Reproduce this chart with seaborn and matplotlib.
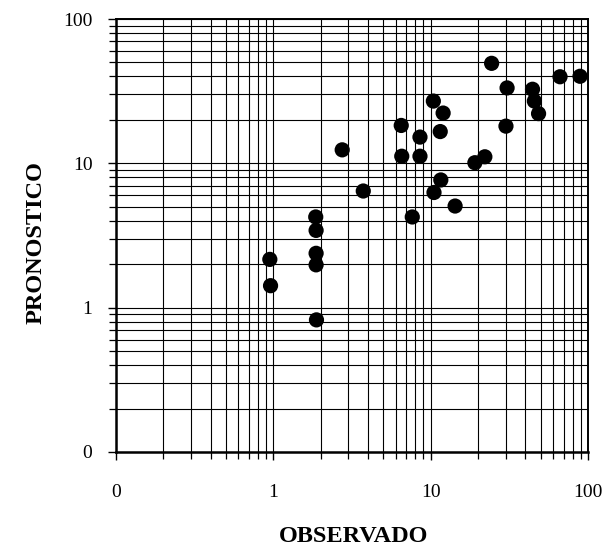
import matplotlib
matplotlib.use("Agg")
import matplotlib.pyplot as plt
import seaborn as sns
import pandas as pd
from matplotlib.ticker import LogLocator, FixedLocator, FixedFormatter, NullFormatter

observado = [24.4, 66.4, 89.0, 30.6, 44.4, 45.6, 48.5, 10.4, 12.0, 6.5,
             11.5, 8.55, 30.1, 2.74, 6.55, 8.55, 19.1, 22.1, 11.6, 10.5,
             3.73, 14.3, 7.64, 1.86, 1.87, 1.87, 1.87, 1.88, 0.95, 0.96]
pronostico = [49.3, 39.8, 40.1, 33.3, 32.6, 27.0, 22.1, 27.0, 22.3, 18.3,
              16.6, 15.2, 18.1, 12.4, 11.2, 11.2, 10.1, 11.1, 7.67, 6.28,
              6.43, 5.06, 4.25, 4.25, 3.43, 2.38, 1.98, 0.823, 2.16, 1.42]
tick_values = [0.1, 1, 10, 100]
tick_labels = ["0", "1", "10", "100"]

df = pd.DataFrame({"OBSERVADO": observado, "PRONOSTICO": pronostico})

sns.set_style("white")
plt.rcParams["font.family"] = ["Liberation Serif", "DejaVu Serif"]
plt.rcParams["text.color"] = "black"
plt.rcParams["axes.labelcolor"] = "black"
plt.rcParams["xtick.color"] = "black"
plt.rcParams["ytick.color"] = "black"

fig = plt.figure(figsize=(6.10, 5.57), dpi=100)
ax = fig.add_axes([116 / 610, 1 - 452 / 557, 472 / 610, 433 / 557])

ax.set_xscale("log")
ax.set_yscale("log")
ax.set_xlim(0.1, 100)
ax.set_ylim(0.1, 100)

sns.scatterplot(data=df, x="OBSERVADO", y="PRONOSTICO", ax=ax, color="black",
                s=120, edgecolor="none", zorder=5, legend=False)

for axis in (ax.xaxis, ax.yaxis):
    axis.set_major_locator(FixedLocator(tick_values))
    axis.set_major_formatter(FixedFormatter(tick_labels))
    axis.set_minor_locator(LogLocator(base=10, subs=range(2, 10)))
    axis.set_minor_formatter(NullFormatter())

ax.grid(True, which="both", color="black", linewidth=0.8)
ax.set_axisbelow(True)

for side in ["left", "bottom", "right", "top"]:
    ax.spines[side].set_visible(True)
    ax.spines[side].set_color("black")
    ax.spines[side].set_linewidth(1.8 if side in ("left", "bottom") else 1.4)

ax.tick_params(axis="both", which="both", direction="out", color="black",
               labelcolor="black", bottom=True, left=True)
ax.tick_params(axis="both", which="major", length=6, width=1.0, labelsize=14)
ax.tick_params(axis="both", which="minor", length=5, width=0.9)
ax.tick_params(axis="x", which="major", pad=17)
ax.tick_params(axis="y", which="major", pad=11)

ax.set_xlabel("OBSERVADO", fontsize=17.5, fontweight="bold", va="center",
              color="black")
ax.set_ylabel("PRONOSTICO", fontsize=17.5, fontweight="bold", va="center",
              color="black")
ax.xaxis.set_label_coords(238 / 472, -(537 - 452) / 433)
ax.yaxis.set_label_coords(-(116 - 36) / 472, (452 - 243) / 433)

fig.savefig("out.png", dpi=100)
